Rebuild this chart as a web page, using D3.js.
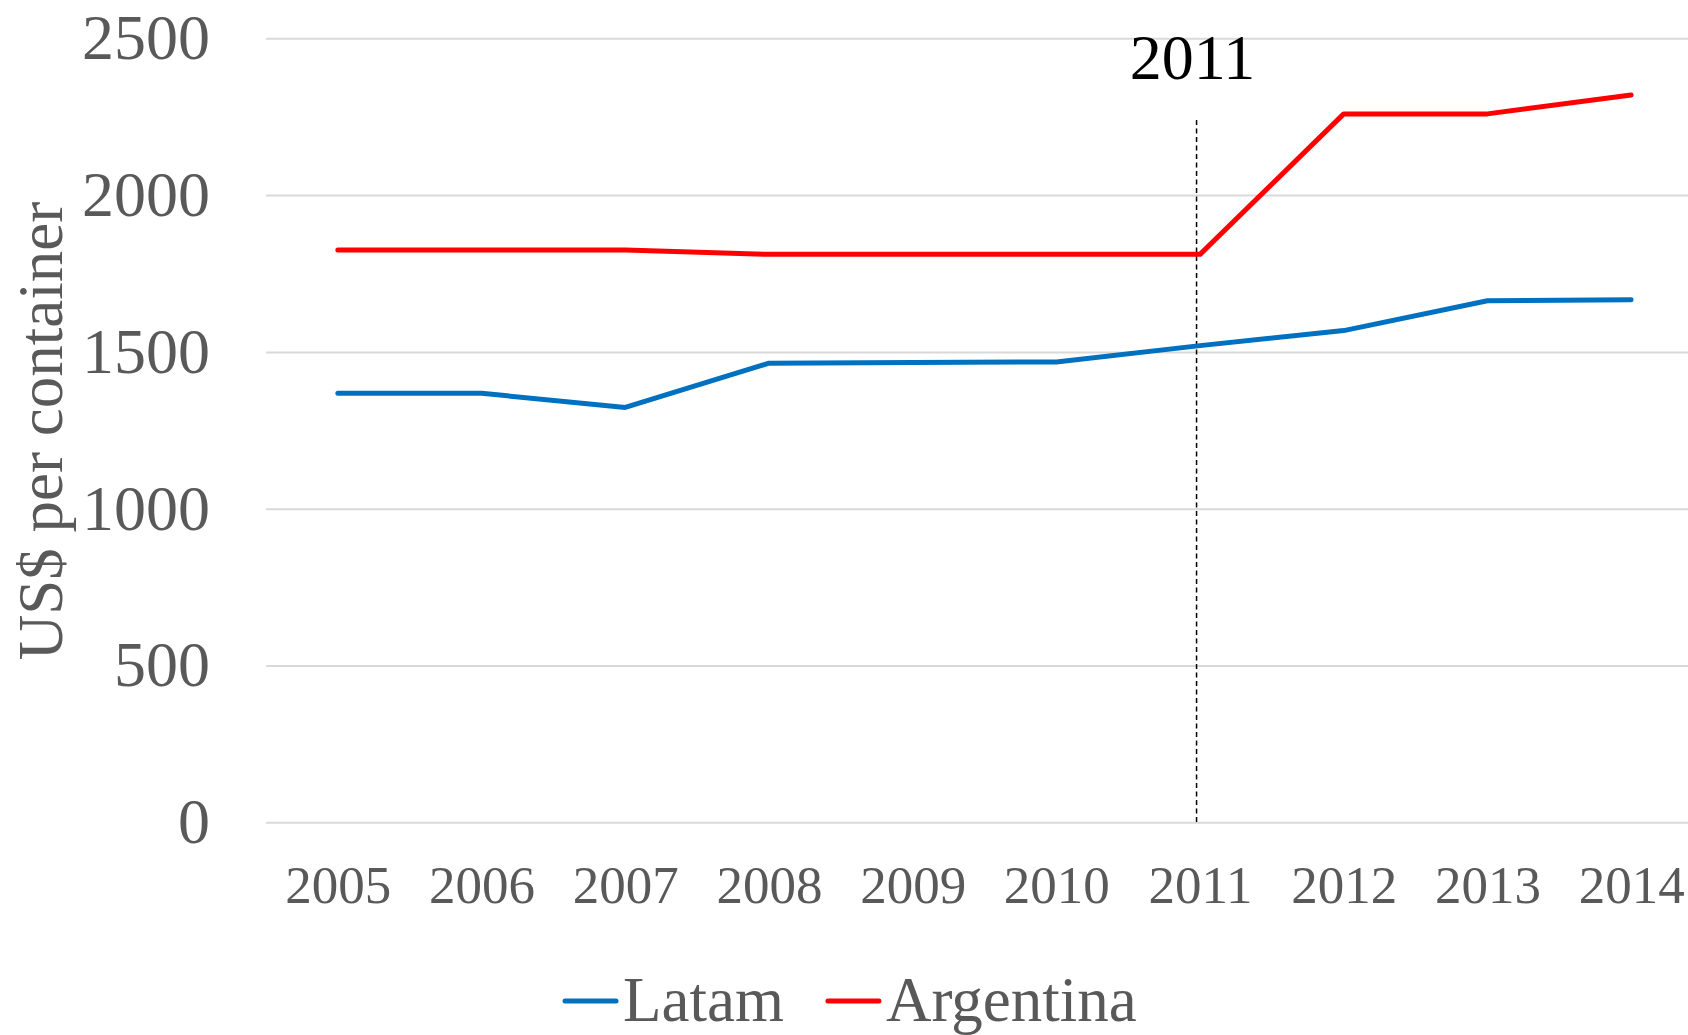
<!DOCTYPE html>
<html>
<head>
<meta charset="utf-8">
<script src="https://cdn.jsdelivr.net/npm/d3@7"></script>
<style>
    body { margin: 0; background: #fff; }
    #chart text { font-family: "Times New Roman", "Liberation Serif", serif; }
</style>
</head>
<body>
<div id="chart"></div>
<script>

// values (US$ per container)
const years = ["2005", "2006", "2007", "2008", "2009", "2010", "2011", "2012", "2013", "2014"]
const latam = [1368, 1368, 1323, 1464, 1466, 1468, 1520, 1568, 1663, 1666]
const argentina = [1825, 1825, 1825, 1811, 1811, 1811, 1811, 2259, 2259, 2319]
const yTicks = [0, 500, 1000, 1500, 2000, 2500]
const markerYear = "2011"
const seriesNames = ["Latam", "Argentina"]
const seriesColors = ["#0070C0", "#FF0000"]

class LineChart {

    constructor() {

        this.el = document.querySelector("#chart")

        this.width = 1688

        this.height = 1035

        this.margin = { top: 38.3, right: -15, bottom: 212.7, left: 266 }

        this.createChart()

    }

    createChart() {

        var self = this

        this.svg = d3.select("#chart").append("svg")
            .attr("width", self.width)
            .attr("height", self.height)
            .attr("viewBox", `0 0 ${self.width} ${self.height}`)

        this.x = d3.scalePoint()
            .domain(years)
            .range([self.margin.left, self.width - self.margin.right])
            .padding(0.5)

        this.y = d3.scaleLinear()
            .domain([0, 2500])
            .range([self.height - self.margin.bottom, self.margin.top])

        this.drawAxes()

        this.drawMarker()

        this.drawLines()

        this.drawLegend()

    }

    drawAxes() {

        var self = this

        var plotWidth = self.width - self.margin.right - self.margin.left

        var yAxis = this.svg.append("g")
            .attr("transform", `translate(${self.margin.left},0)`)
            .call(d3.axisLeft(self.y)
                .tickValues(yTicks)
                .tickFormat(d3.format("d"))
                .tickSize(-plotWidth)
                .tickPadding(56))

        yAxis.select(".domain").remove()

        yAxis.selectAll(".tick line")
            .attr("stroke", "#D9D9D9")
            .attr("stroke-width", 2)

        yAxis.selectAll(".tick text")
            .attr("fill", "#595959")
            .attr("font-size", 64)
            .attr("dy", "0.32em")

        var xAxis = this.svg.append("g")
            .attr("transform", `translate(0,${self.y(0)})`)
            .call(d3.axisBottom(self.x).tickSize(0).tickPadding(43))

        xAxis.select(".domain").remove()

        xAxis.selectAll(".tick text")
            .attr("fill", "#595959")
            .attr("font-size", 53)

        // axis title
        this.svg.append("text")
            .attr("transform", "translate(62,431) rotate(-90)")
            .attr("text-anchor", "middle")
            .attr("fill", "#595959")
            .attr("font-size", 63)
            .text("US$ per container")

    }

    drawMarker() {

        var self = this

        var mx = self.x(markerYear) - 3.5

        this.svg.append("line")
            .attr("x1", mx).attr("x2", mx)
            .attr("y1", 120).attr("y2", self.y(0))
            .attr("stroke", "#000")
            .attr("stroke-width", 1.5)
            .attr("stroke-dasharray", "5,3.5")

        this.svg.append("text")
            .attr("x", mx - 4)
            .attr("y", 79)
            .attr("text-anchor", "middle")
            .attr("fill", "#000")
            .attr("font-size", 64)
            .text(markerYear)

    }

    drawLines() {

        var self = this

        var line = d3.line()
            .x((d, i) => self.x(years[i]))
            .y(d => self.y(d))

        ;[latam, argentina].forEach((values, k) => {

            self.svg.append("path")
                .datum(values)
                .attr("fill", "none")
                .attr("stroke", seriesColors[k])
                .attr("stroke-width", 5)
                .attr("stroke-linejoin", "round")
                .attr("stroke-linecap", "round")
                .attr("d", line)

        })

    }

    drawLegend() {

        var legend = this.svg.append("g")

        var cursor = 0

        seriesNames.forEach((name, k) => {

            var item = legend.append("g").attr("transform", `translate(${cursor},0)`)

            item.append("line")
                .attr("x1", 2).attr("x2", 53)
                .attr("y1", 0).attr("y2", 0)
                .attr("stroke", seriesColors[k])
                .attr("stroke-width", 5)
                .attr("stroke-linecap", "round")

            var label = item.append("text")
                .attr("x", 60)
                .attr("y", 20)
                .attr("fill", "#595959")
                .attr("font-size", 63)
                .text(name)

            cursor += 60 + label.node().getComputedTextLength() + 42

        })

        // nudged up a touch so the descenders stay on the page
        legend.attr("transform", "translate(563,1001)")

    }
}

new LineChart()

</script>
</body>
</html>
